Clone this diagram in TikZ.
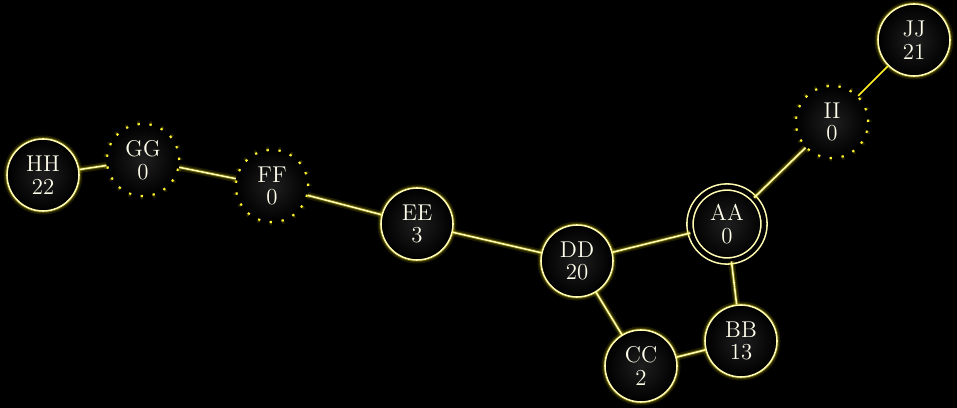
\documentclass[tikz,border=0pt]{standalone}
\usepackage{tikz}

\begin{document}
\begin{tikzpicture}[x=0.02cm,y=-0.02cm,
  glow/.style={preaction={draw=yellow,line width=4pt,opacity=0.12},
               preaction={draw=yellow,line width=2pt,opacity=0.3}},
  vertex/.style={circle,draw=yellow!30!white,line width=0.9pt,glow,
                 minimum size=1.44cm,inner sep=0pt,align=center,
                 text=yellow!8!white,font=\fontsize{13}{13}\selectfont,
                 inner color=black!88!white,outer color=black},
  ghost/.style={vertex,dash pattern=on 1.3pt off 5.5pt,line width=1.1pt,draw=yellow!80!white},
  root/.style={vertex,minimum size=1.48cm,double=black,double distance=2.6pt},
  link/.style={draw=yellow!30!white,line width=0.9pt,glow}]
\fill[black] (0,0) rectangle (957,408);
\useasboundingbox (0,0) rectangle (957,408);
% nodes
\node[vertex] (HH) at (43,175) {HH\\22};
\node[ghost] (GG) at (143,160) {GG\\0};
\node[ghost] (FF) at (272,186) {FF\\0};
\node[vertex] (EE) at (417,224) {EE\\3};
\node[vertex] (DD) at (577,261) {DD\\20};
\node[root] (AA) at (727,224) {AA\\0};
\node[vertex] (BB) at (741,341) {BB\\13};
\node[vertex] (CC) at (641,366) {CC\\2};
\node[ghost] (II) at (832,122) {II\\0};
\node[vertex] (JJ) at (914,40) {JJ\\21};
% edges
\draw[link] (HH) -- (GG);
\draw[link] (GG) -- (FF);
\draw[link] (FF) -- (EE);
\draw[link] (EE) -- (DD);
\draw[link] (DD) -- (AA);
\draw[link] (DD) -- (CC);
\draw[link] (CC) -- (BB);
\draw[link] (BB) -- (AA);
\draw[link] (AA) -- (II);
\draw[yellow!85!white,line width=0.9pt] (II) -- (JJ);
\end{tikzpicture}
\end{document}
